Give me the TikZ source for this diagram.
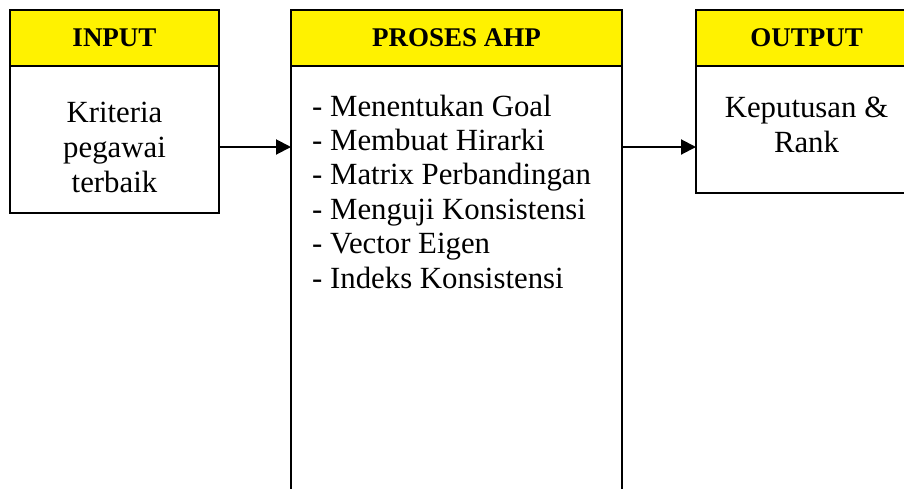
\documentclass[tikz,border=0pt]{standalone}
\usepackage{fontspec}
\setmainfont{Liberation Serif}
\usetikzlibrary{arrows.meta}
\begin{document}
\begin{tikzpicture}[x=1pt,y=-1pt,
  boxframe/.style={draw=black,line width=2pt,fill=white,anchor=north west,inner sep=0pt,outer sep=0pt},
  head/.style={fill=yellow,draw=black,line width=2pt,anchor=north west,inner sep=0pt,outer sep=0pt,
               minimum height=56pt,font=\fontsize{27}{32}\selectfont\bfseries},
  bodytxt/.style={font=\fontsize{30.8}{35}\selectfont,inner sep=0pt,align=center},
  listtxt/.style={font=\fontsize{30.8}{35}\selectfont,inner sep=0pt,anchor=base west},
  conn/.style={line width=2pt,-{Triangle[length=15pt,width=15pt]}}]
\useasboundingbox (0,0) rectangle (904,488);
\clip (0,0) rectangle (904,488);
% boxes
\node[boxframe,minimum width=209pt,minimum height=203pt] (inbox) at (10,10) {};
\node[boxframe,minimum width=331pt,minimum height=500pt] (ahpbox) at (291,10) {};
\node[boxframe,minimum width=221pt,minimum height=183pt] (outbox) at (696,10) {};
% headers
\node[head,minimum width=209pt] (inhead) at (10,10) {INPUT};
\node[head,minimum width=331pt] (ahphead) at (291,10) {PROSES AHP};
\node[head,minimum width=221pt] (outhead) at (696,10) {OUTPUT};
% body texts
\node[bodytxt] (ktext) at (114.5,147) {Kriteria\\pegawai\\terbaik};
\node[bodytxt] (otext) at (806.5,125) {Keputusan \&\\Rank};
\foreach \t [count=\i from 0] in {Menentukan Goal,Membuat Hirarki,Matrix Perbandingan,Menguji Konsistensi,Vector Eigen,Indeks Konsistensi}
  \node[listtxt] (l\i) at (312,116+34.4*\i) {- \t};
% connectors
\draw[conn] (inbox.east |- ktext.center) -- (ahpbox.west |- ktext.center);
\draw[conn] (ahpbox.east |- ktext.center) -- (outbox.west |- ktext.center);
\end{tikzpicture}
\end{document}
